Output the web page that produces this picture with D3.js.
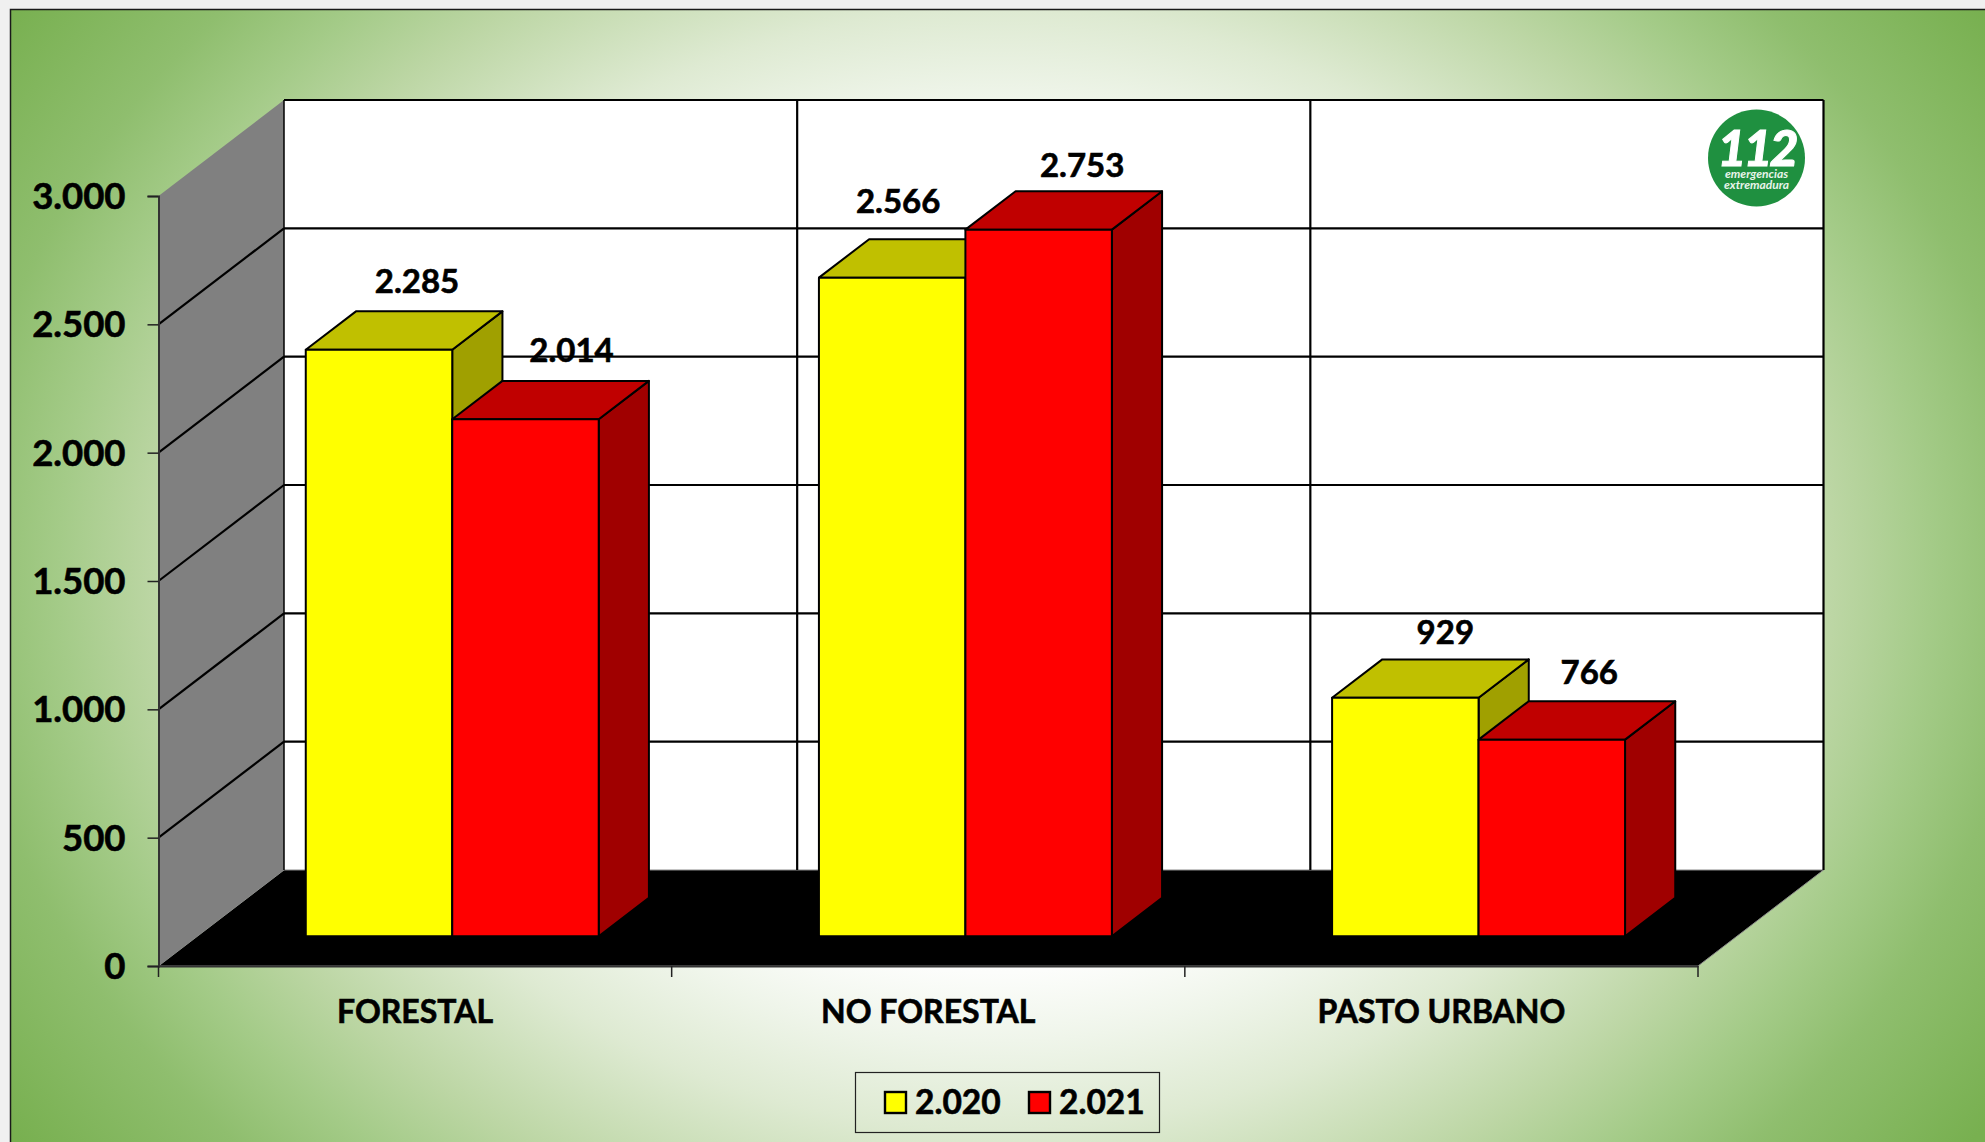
<!doctype html>
<html lang="es">

<head>
    <meta charset="UTF-8" />
    <title>Incendios</title>
    <script src="https://d3js.org/d3.v7.min.js"></script>
    <style>
        html, body { margin: 0; padding: 0; background: #f0f0f0; overflow: hidden; }
        svg { display: block; }
        text { font-family: Lato, "Open Sans", sans-serif; font-weight: 700; fill: #000; }
        .heavy { stroke: #000; stroke-width: 0.6px; }
    </style>
</head>

<body>
    <div id="chart"></div>
    <script type="module">
        // Data
        const categories = ["FORESTAL", "NO FORESTAL", "PASTO URBANO"]
        const seriesNames = ["2.020", "2.021"]
        const values2020 = [2285, 2566, 929]
        const values2021 = [2014, 2753, 766]
        const yTicks = [0, 500, 1000, 1500, 2000, 2500, 3000]

        // Layout
        const WIDTH = 1985
        const HEIGHT = 1142
        const plot = { left: 158.5, right: 1698, top: 196, bottom: 966 }
        const depth = { dx: 125.5, dy: 96 }
        const barDepth = { front: 0.31, back: 0.71 }

        // Hand placed data labels, as [dx, dy] from the top centre of the front face
        const labelShift = [
            [[38, -69], [46, -69]],
            [[6, -77], [43.5, -65]],
            [[40, -66], [37.5, -68]]
        ]

        const seriesStyle = [
            { front: "#ffff00", top: "#c0c000", side: "#a0a000" },
            { front: "#ff0000", top: "#c00000", side: "#a00000" }
        ]

        const x = d3.scaleBand().domain(categories).range([plot.left, plot.right])
        const xInner = d3.scaleBand().domain(seriesNames).range([-1.5, x.bandwidth() - 2]).paddingOuter(0.75).paddingInner(0)
        const y = d3.scaleLinear().domain([0, 3000]).range([plot.bottom, plot.top])

        // Oblique projection: depth 0 is the front plane, 1 the back wall
        const project = (px, value, d) => [px + d * depth.dx, y(value) - d * depth.dy]
        const poly = pts => d3.line()(pts) + "Z"
        const dotted = d => d3.format(",")(d).replace(",", ".")

        const svg = d3.select("#chart").append("svg").attr("width", WIDTH).attr("height", HEIGHT)

        // Background
        const defs = svg.append("defs")
        const grad = defs.append("radialGradient")
            .attr("id", "bg")
            .attr("gradientUnits", "userSpaceOnUse")
            .attr("cx", 0).attr("cy", 0).attr("r", 1)
            .attr("gradientTransform", "translate(995 570) scale(1200 982)")
        const stops = [
            [0, "#ffffff"], [0.35, "#ffffff"], [0.41, "#fcfdfb"], [0.48, "#eff5ea"], [0.57, "#deead2"],
            [0.70, "#bcd6a4"], [0.78, "#a4cb88"], [0.86, "#8fbe6e"], [1, "#78b050"]
        ]
        stops.forEach(s => grad.append("stop").attr("offset", s[0]).attr("stop-color", s[1]))

        svg.append("rect")
            .attr("x", 10.5).attr("y", 9.5)
            .attr("width", WIDTH).attr("height", HEIGHT)
            .attr("fill", "url(#bg)")
            .attr("stroke", "#1a1a1a")
            .attr("stroke-width", 1.5)

        // Back wall
        const xMin = plot.left
        const xMax = plot.right
        svg.append("path")
            .attr("d", poly([project(xMin, 3000, 1), project(xMax, 3000, 1), project(xMax, 0, 1), project(xMin, 0, 1)]))
            .attr("fill", "#fff")

        // Left wall
        svg.append("path")
            .attr("d", poly([project(xMin, 3000, 0), project(xMin, 3000, 1), project(xMin, 0, 1), project(xMin, 0, 0)]))
            .attr("fill", "#808080")

        // Floor
        svg.append("path")
            .attr("d", poly([project(xMin, 0, 0), project(xMin, 0, 1), project(xMax, 0, 1), project(xMax, 0, 0)]))
            .attr("fill", "#000")
            .attr("stroke", "#8a8a8a")
            .attr("stroke-width", 1)

        // Gridlines
        const grid = svg.append("g").attr("fill", "none").attr("stroke", "#000").attr("stroke-width", 2.2)
        yTicks.filter(t => t > 0).forEach(t => {
            grid.append("path").attr("d", d3.line()([project(xMax, t, 1), project(xMin, t, 1)]))
            if (t < 3000) {
                grid.append("path").attr("d", d3.line()([project(xMin, t, 1), project(xMin, t, 0)]))
            }
        })
        const wallXs = [xMin, ...categories.map(c => x(c) + x.bandwidth())]
        wallXs.forEach(wx => {
            grid.append("path")
                .attr("stroke-width", wx === xMin ? 1.5 : 2.2)
                .attr("d", d3.line()([project(wx, 3000, 1), project(wx, 0, 1)]))
        })

        // Bars
        const seriesValues = [values2020, values2021]
        const bars = svg.append("g").attr("stroke", "#000").attr("stroke-width", 2).attr("stroke-linejoin", "round")
        categories.forEach((cat, c) => {
            seriesNames.forEach((name, s) => {
                const value = seriesValues[s][c]
                const x0 = x(cat) + xInner(name)
                const x1 = x0 + xInner.bandwidth()
                const f = barDepth.front
                const b = barDepth.back
                const style = seriesStyle[s]
                const g = bars.append("g")
                g.append("path").attr("fill", style.side)
                    .attr("d", poly([project(x1, value, f), project(x1, value, b), project(x1, 0, b), project(x1, 0, f)]))
                g.append("path").attr("fill", style.top)
                    .attr("d", poly([project(x0, value, f), project(x0, value, b), project(x1, value, b), project(x1, value, f)]))
                g.append("path").attr("fill", style.front)
                    .attr("d", poly([project(x0, value, f), project(x1, value, f), project(x1, 0, f), project(x0, 0, f)]))
            })
        })

        // Data labels go above all bars
        const labels = svg.append("g").attr("text-anchor", "middle").attr("font-size", "33px")
        categories.forEach((cat, c) => {
            seriesNames.forEach((name, s) => {
                const value = seriesValues[s][c]
                const [dx, dy] = labelShift[c][s]
                const [px, py] = project(x(cat) + xInner(name) + xInner.bandwidth() / 2, value, barDepth.front)
                labels.append("text")
                    .attr("class", "heavy")
                    .attr("x", px + dx)
                    .attr("y", py + dy)
                    .attr("dy", "0.36em")
                    .text(dotted(value))
            })
        })

        // Y axis
        const yAxis = svg.append("g")
            .attr("transform", `translate(${plot.left}, 0)`)
            .call(d3.axisLeft(y)
                .tickValues(yTicks)
                .tickFormat(dotted)
                .tickSize(11)
                .tickPadding(22))
        yAxis.selectAll("text")
            .attr("class", "heavy")
            .attr("font-size", "36.5px")
            .attr("dy", "0.34em")
            .style("font-family", "Lato")
            .style("font-weight", 700)
        yAxis.selectAll("line").attr("stroke", "#222").attr("stroke-width", 1.5)
        yAxis.select(".domain").attr("stroke", "#333").attr("stroke-width", 2)

        // X axis, ticks sit on the band edges so the labels get their own call
        const xAxis = svg.append("g")
            .attr("transform", `translate(0, ${plot.bottom})`)
            .call(d3.axisBottom(x).tickSize(0).tickPadding(34.5))
        xAxis.selectAll("text")
            .attr("class", "heavy")
            .attr("font-size", "32px")
            .style("font-family", "Lato")
            .style("font-weight", 700)
        xAxis.select(".domain").attr("stroke", "#333").attr("stroke-width", 2)
        xAxis.selectAll(".edge")
            .data(wallXs)
            .enter()
            .append("line")
            .attr("class", "edge")
            .attr("x1", d => d).attr("x2", d => d)
            .attr("y1", 0).attr("y2", 11)
            .attr("stroke", "#222")
            .attr("stroke-width", 1.5)

        // Legend
        const legend = svg.append("g").attr("transform", "translate(855, 1072)")
        legend.append("rect")
            .attr("x", 0.5).attr("y", 0.5)
            .attr("width", 304).attr("height", 60)
            .attr("fill", "none")
            .attr("stroke", "#222")
            .attr("stroke-width", 1.2)
        seriesNames.forEach((name, s) => {
            const lx = 30 + s * 144
            legend.append("rect")
                .attr("x", lx).attr("y", 20)
                .attr("width", 21).attr("height", 21)
                .attr("fill", seriesStyle[s].front)
                .attr("stroke", "#000")
                .attr("stroke-width", 2.4)
            legend.append("text")
                .attr("class", "heavy")
                .attr("x", lx + 30)
                .attr("y", 30)
                .attr("dy", "0.36em")
                .attr("font-size", "33.5px")
                .text(name)
        })

        // 112 logo
        const logo = svg.append("g").attr("transform", "translate(1756.5, 158)").attr("text-anchor", "middle")
        logo.append("circle").attr("r", 48.5).attr("fill", "#1f9040")
        logo.append("text")
            .attr("y", 8)
            .attr("font-size", "50px")
            .attr("font-style", "italic")
            .style("font-weight", 900)
            .style("fill", "#fff")
            .style("stroke", "#fff")
            .style("stroke-width", "1px")
            .style("letter-spacing", "-3px")
            .text("112")
        logo.append("text")
            .attr("y", 20)
            .attr("font-size", "12px")
            .attr("font-style", "italic")
            .style("fill", "#e8f4ea")
            .text("emergencias")
        logo.append("text")
            .attr("y", 30.5)
            .attr("font-size", "12px")
            .attr("font-style", "italic")
            .style("fill", "#e8f4ea")
            .text("extremadura")
    </script>
</body>

</html>
